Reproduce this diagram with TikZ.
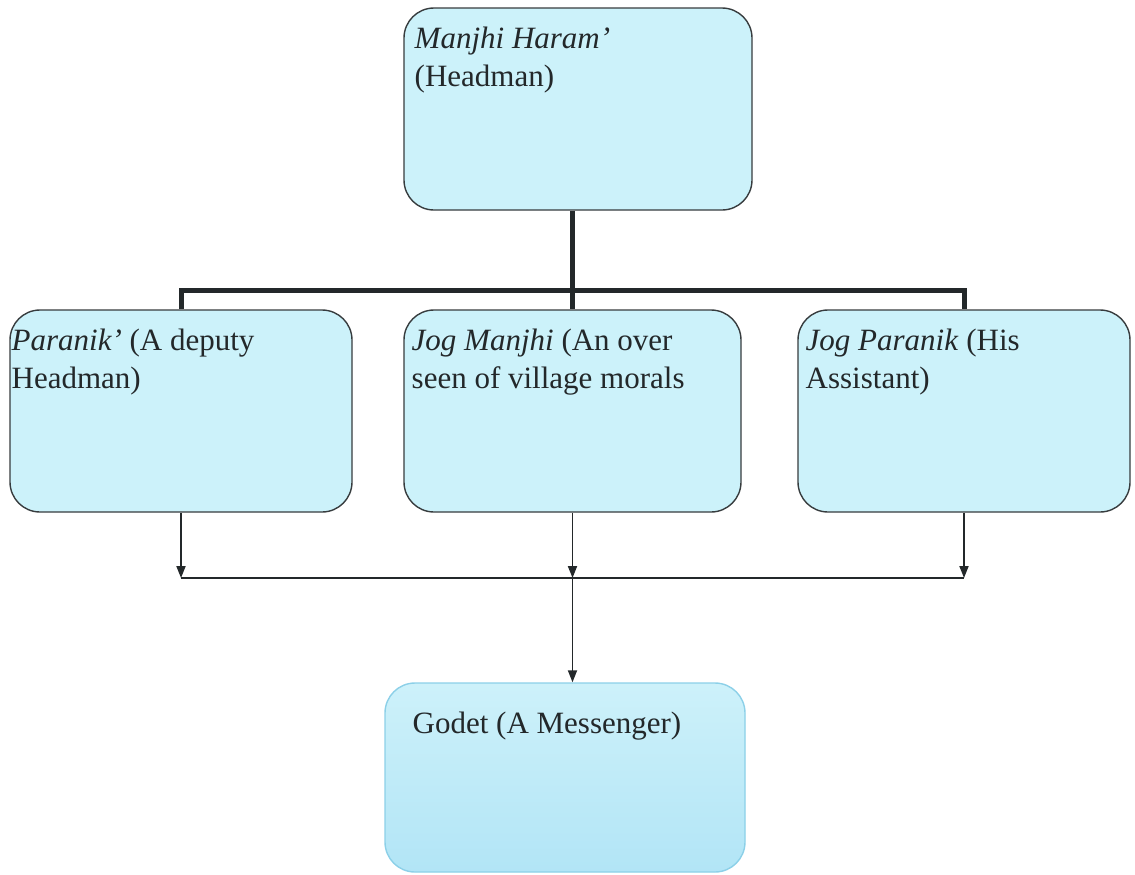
\documentclass[tikz,border=0pt]{standalone}
\usepackage{fontspec}
\setmainfont{Liberation Serif}
\usetikzlibrary{arrows.meta,calc}
\definecolor{boxfill}{RGB}{204,242,250}
\definecolor{boxline}{RGB}{55,60,62}
\definecolor{ink}{RGB}{35,40,42}
\definecolor{godtop}{RGB}{205,241,250}
\definecolor{godbot}{RGB}{178,229,246}
\definecolor{godline}{RGB}{140,208,232}

\begin{document}
\begin{tikzpicture}[x=0.5pt,y=-0.5pt,
	unitbox/.style={draw=boxline,fill=boxfill,line width=0.7pt,rounded corners=15pt,inner sep=0pt},
	lbl/.style={anchor=north west,align=left,inner sep=0pt,text=ink,font=\fontsize{15.5}{19}\selectfont},
	bus/.style={draw=ink,line width=2.5pt},
	feed/.style={draw=ink,line width=0.9pt,-{Triangle[length=6pt,width=4.5pt]}}]
\useasboundingbox (0,0) rectangle (1135,874);
% boxes
\node[unitbox,minimum width=174pt,minimum height=101pt] (top) at (578,109) {};
\node[unitbox,minimum width=171pt,minimum height=101pt] (left) at (181,411) {};
\node[unitbox,minimum width=168.5pt,minimum height=101pt] (mid) at (572.5,411) {};
\node[unitbox,minimum width=166pt,minimum height=101pt] (right) at (964,411) {};
\node[unitbox,draw=godline,top color=godtop,bottom color=godbot,minimum width=180pt,minimum height=94.5pt] (god) at (565,777.5) {};
% texts
\node[lbl] (topt) at ($(top.north west)+(11,19)$) {\textit{Manjhi Haram'}\\(Headman)};
\node[lbl] (leftt) at ($(left.north west)+(2,19)$) {\textit{Paranik'} (A deputy\\Headman)};
\node[lbl] (midt) at ($(mid.north west)+(8,19)$) {\textit{Jog Manjhi} (An over\\seen of village morals};
\node[lbl] (rightt) at ($(right.north west)+(8,19)$) {\textit{Jog Paranik} (His\\Assistant)};
\node[lbl] (godt) at ($(god.north west)+(28,29)$) {Godet (A Messenger)};
% connectors
\coordinate (busT) at (572.5,290);
\coordinate (busB) at (572.5,578);
\draw[bus] (top.south -| busT) -- (busT);
\draw[bus] (left.north) |- (busT) -| (right.north);
\draw[bus] (busT) -- (mid.north);
\foreach \n in {left,mid,right}
	\draw[feed] (\n.south) -- (\n.south |- busB);
\draw[ink,line width=0.9pt] (left.south |- busB) -- (right.south |- busB);
\draw[feed] (busB) -- (busB |- god.north);
\end{tikzpicture}
\end{document}
